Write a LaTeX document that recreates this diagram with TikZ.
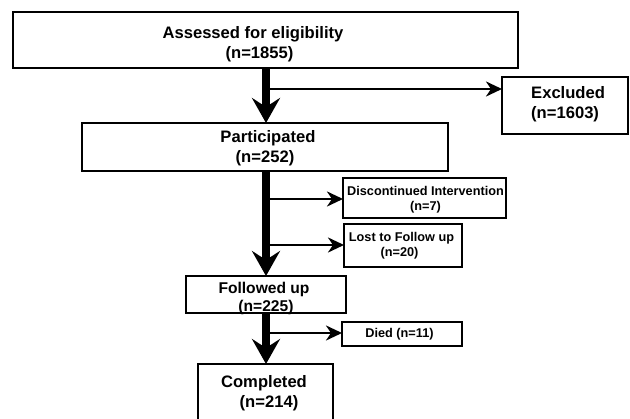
\documentclass[tikz,border=0pt]{standalone}
\usepackage{fontspec}
\setmainfont{Liberation Sans}
\usetikzlibrary{arrows.meta}
\tikzset{
  box/.style={draw=black, line width=1.8pt, fill=white, inner sep=0pt, outer sep=0pt},
  big/.style={inner sep=0pt, align=center, font=\fontsize{16.6}{20}\selectfont\bfseries},
  small/.style={inner sep=0pt, align=center, font=\fontsize{12.7}{15}\selectfont\bfseries},
  spine/.style={line width=8pt, -{Stealth[length=25pt, width=28pt, inset=9pt]}},
  branch/.style={line width=2.6pt, -{Stealth[length=16pt, width=15pt, inset=5pt]}},
}
\begin{document}
\begin{tikzpicture}[x=1pt, y=-1pt]
\useasboundingbox (0,0) rectangle (630,419);
% boxes (center-line dimensions)
\node[box, minimum width=505pt, minimum height=56pt] (assess) at (265.5,40) {};
\node[box, minimum width=126pt, minimum height=57pt] (excl) at (565,105.5) {};
\node[box, minimum width=366pt, minimum height=48pt] (part) at (265,147) {};
\node[box, minimum width=163pt, minimum height=40pt] (disc) at (424.5,198) {};
\node[box, minimum width=118pt, minimum height=43pt] (lost) at (403,245.5) {};
\node[box, minimum width=160pt, minimum height=37pt] (foll) at (266,294.5) {};
\node[box, minimum width=120pt, minimum height=24pt] (died) at (402,334) {};
\node[box, minimum width=135pt, minimum height=58pt] (comp) at (265.5,393) {};
% texts
\node[big] (assess-t) at (253,44.5) {Assessed for eligibility\\\hspace*{13pt}(n=1855)};
\node[big, align=left, anchor=west] (excl-t) at (531,104.5) {Excluded\\(n=1603)};
\node[big] (part-t) at (268,148.5) {Participated\\(n=252)\hspace*{6pt}};
\node[small] (disc-t) at (425.5,199.5) {Discontinued Intervention\\(n=7)};
\node[small] (lost-t) at (401.5,245.5) {Lost to Follow up\\(n=20)\hspace*{4pt}};
\node[big, font=\fontsize{15.6}{18}\selectfont\bfseries] (foll-t) at (264,298) {Followed up\\\hspace*{4pt}(n=225)};
\node[small] (died-t) at (399.5,334) {Died (n=11)};
\node[big] (comp-t) at (264,393) {Completed\\\hspace*{10pt}(n=214)};
% branch points
\coordinate (b1) at (266,89);
\coordinate (b2) at (266,199);
\coordinate (b3) at (266,245);
\coordinate (b4) at (266,333);
% connectors
\draw[spine] (assess.south -| b1) -- (part.north -| b1);
\draw[spine] (part.south -| b1) -- (foll.north -| b1);
\draw[spine] (foll.south -| b1) -- (comp.north -| b1);
\draw[branch] (b1) -- (b1 -| excl.west);
\draw[branch] (b2) -- (b2 -| disc.west);
\draw[branch] (b3) -- (b3 -| lost.west);
\draw[branch] (b4) -- (b4 -| died.west);
\end{tikzpicture}
\end{document}
